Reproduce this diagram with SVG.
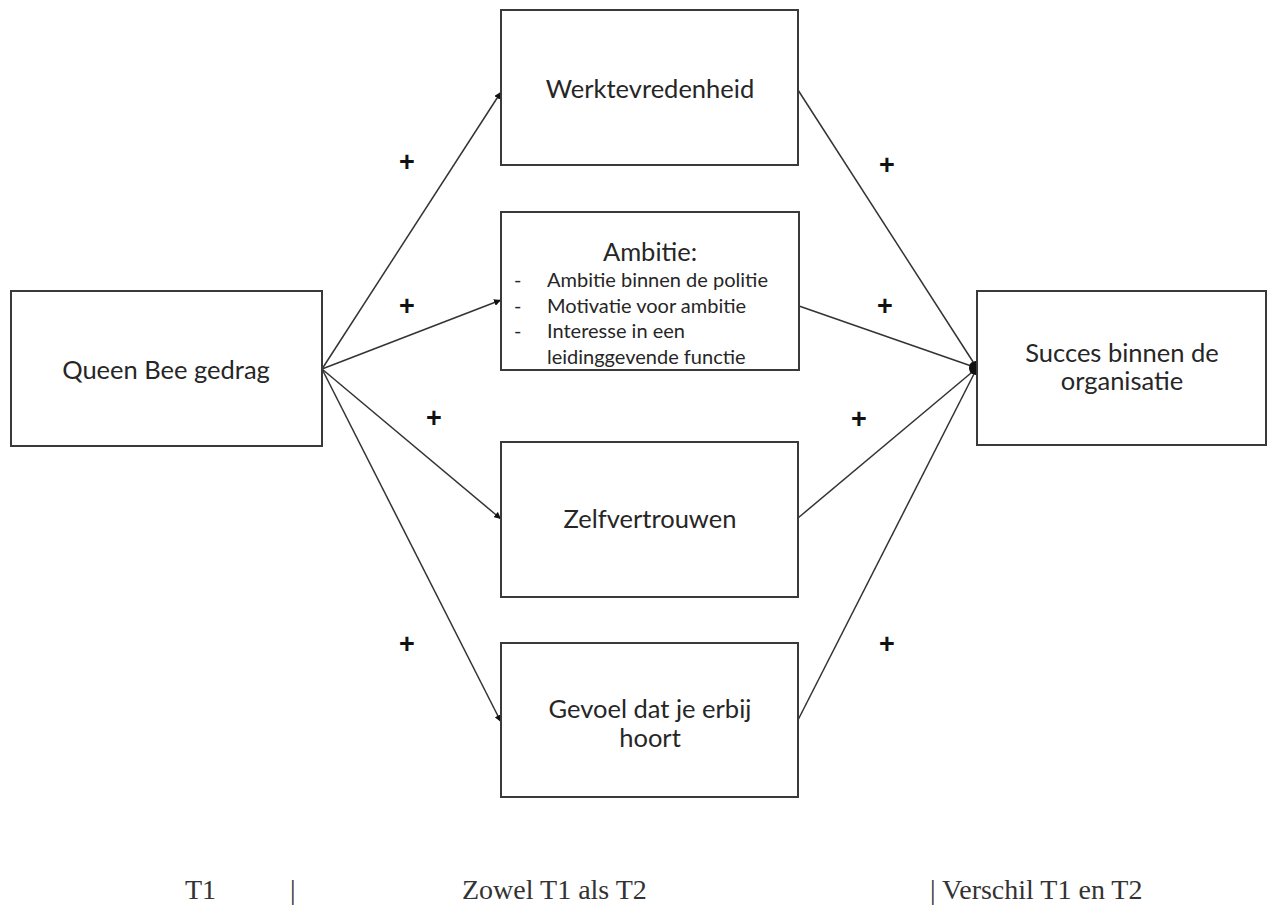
<svg xmlns="http://www.w3.org/2000/svg" width="1277" height="910" viewBox="0 0 1277 910">
<style>
.box{fill:#fff;stroke:#3a3a3a;stroke-width:2}
.t{font-family:"Lato","Liberation Sans",sans-serif;font-size:25.5px;fill:#262626;text-anchor:middle}
.s{font-family:"Lato","Liberation Sans",sans-serif;font-size:20px;fill:#262626}
.c{stroke:#333;stroke-width:1.5;fill:none;marker-end:url(#ah)}
.p{font-family:"Liberation Sans",sans-serif;font-size:27px;font-weight:bold;fill:#111;text-anchor:middle}
.b{font-family:"Liberation Serif",serif;font-size:28px;fill:#333}
</style>
<defs>
<marker id="ah" viewBox="0 0 10 10" refX="10" refY="5" markerWidth="7" markerHeight="7" markerUnits="userSpaceOnUse" orient="auto">
<path d="M0,0 L10,5 L0,10 z" fill="#111"/>
</marker>
</defs>
<rect width="1277" height="910" fill="#fff"/>
<g id="connectors">
<line class="c" x1="322" y1="369" x2="501" y2="92"/>
<line class="c" x1="322" y1="369" x2="501" y2="300"/>
<line class="c" x1="322" y1="369" x2="501" y2="519"/>
<line class="c" x1="322" y1="369" x2="501" y2="722"/>
<line class="c" x1="798" y1="90" x2="977" y2="368"/>
<line class="c" x1="799" y1="306" x2="977" y2="368"/>
<line class="c" x1="798" y1="518" x2="977" y2="368"/>
<line class="c" x1="798" y1="720" x2="977" y2="368"/>
<ellipse cx="973" cy="368" rx="4" ry="6" fill="#111"/>
</g>
<g id="queen-bee">
<rect class="box" x="11" y="291" width="311" height="155"/>
<text class="t" x="166" y="379">Queen Bee gedrag</text>
</g>
<g id="werktevredenheid">
<rect class="box" x="501" y="10" width="297" height="155"/>
<text class="t" x="650" y="98">Werktevredenheid</text>
</g>
<g id="ambitie">
<rect class="box" x="501" y="212" width="298" height="158"/>
<text class="t" x="650" y="261">Ambitie:</text>
<text class="s" x="514" y="287">-</text>
<text class="s" x="547" y="287">Ambitie binnen de politie</text>
<text class="s" x="514" y="313">-</text>
<text class="s" x="547" y="313">Motivatie voor ambitie</text>
<text class="s" x="514" y="338">-</text>
<text class="s" x="547" y="338">Interesse in een</text>
<text class="s" x="547" y="364">leidinggevende functie</text>
</g>
<g id="zelfvertrouwen">
<rect class="box" x="501" y="442" width="297" height="155"/>
<text class="t" x="650" y="528">Zelfvertrouwen</text>
</g>
<g id="gevoel">
<rect class="box" x="501" y="643" width="297" height="154"/>
<text class="t" x="650" y="718">Gevoel dat je erbij</text>
<text class="t" x="650" y="747">hoort</text>
</g>
<g id="succes">
<rect class="box" x="977" y="291" width="289" height="154"/>
<text class="t" x="1122" y="362">Succes binnen de</text>
<text class="t" x="1122" y="390">organisatie</text>
</g>
<g id="signs">
<text class="p" x="407" y="171">+</text>
<text class="p" x="407" y="315">+</text>
<text class="p" x="434" y="427">+</text>
<text class="p" x="407" y="653">+</text>
<text class="p" x="887" y="174">+</text>
<text class="p" x="885" y="315">+</text>
<text class="p" x="859" y="428">+</text>
<text class="p" x="887" y="653">+</text>
</g>
<g id="legend">
<text class="b" x="185" y="899">T1</text>
<text class="b" x="290" y="899">|</text>
<text class="b" x="462" y="899">Zowel T1 als T2</text>
<text class="b" x="930" y="899">| Verschil T1 en T2</text>
</g>
</svg>
